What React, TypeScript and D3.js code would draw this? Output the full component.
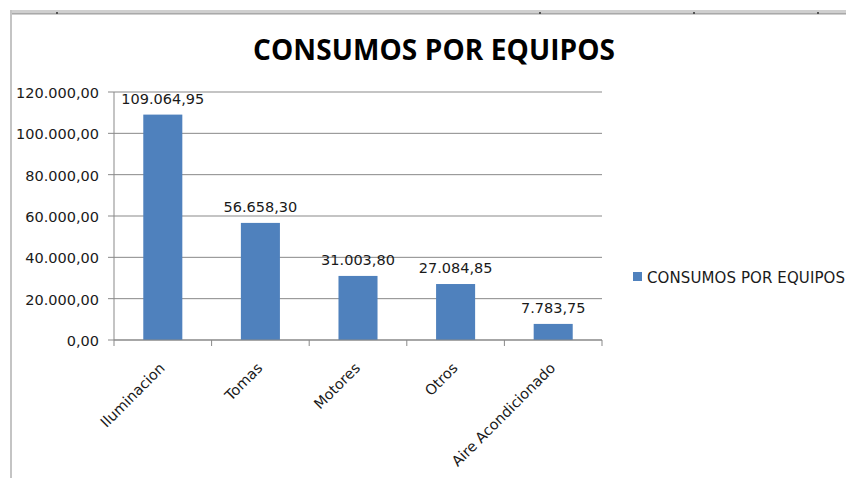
import React from "react";
import * as d3 from "d3";

const categories = ["Iluminacion", "Tomas", "Motores", "Otros", "Aire Acondicionado"];
const values = [109064.95, 56658.3, 31003.8, 27084.85, 7783.75];
const yTicks = [0, 20000, 40000, 60000, 80000, 100000, 120000];
const seriesName = "CONSUMOS POR EQUIPOS";
const title = "CONSUMOS POR EQUIPOS";
const topMarks = [56, 539, 693, 817];

const W = 846;
const H = 478;
const plot = { left: 114, right: 602, top: 92, bottom: 340 };
const BAR = "#4F81BD";
const GRID = "#898989";
const TXT = "#1a1a1a";
const FONT = "'DejaVu Sans', Verdana, sans-serif";

const locale = d3.formatLocale({ decimal: ",", thousands: ".", grouping: [3], currency: ["", ""] });
const fmt = locale.format(",.2f");

export default function App() {
  const x = d3
    .scaleBand<string>()
    .domain(categories)
    .range([plot.left, plot.right])
    .paddingInner(0.6)
    .paddingOuter(0.3);
  const y = d3.scaleLinear().domain([0, 120000]).range([plot.bottom, plot.top]);
  const step = x.step();
  const bounds = categories.map((c) => (x(c) as number) - 0.3 * step).concat([plot.right]);

  return (
    <svg
      width={W}
      height={H}
      style={{ position: "fixed", left: 0, top: 0, background: "#fff" }}
      fontFamily={FONT}
    >
      <rect x={0} y={0} width={W} height={H} fill="#fff" />
      {/* sheet borders */}
      <rect x={10} y={10} width={W - 10} height={5} fill="#cfcfcf" />
      <line x1={10} x2={W} y1={13.5} y2={13.5} stroke="#a9a9a9" strokeWidth={1} />
      <rect x={10} y={10} width={2} height={H - 10} fill="#c4c4c4" />
      {topMarks.map((m) => (
        <rect key={m} x={m} y={12} width={2} height={2} fill="#555" />
      ))}

      {/* title */}
      <text
        x={434}
        y={60}
        textAnchor="middle"
        fontFamily="'Open Sans', sans-serif"
        fontWeight="bold"
        fontSize={28}
        fill="#000"
        textLength={362}
      >
        {title}
      </text>

      {/* gridlines */}
      {yTicks.map((t) => (
        <line key={t} x1={plot.left - 6} x2={plot.right} y1={y(t)} y2={y(t)} stroke={GRID} strokeWidth={1} />
      ))}
      {/* y axis */}
      <line x1={plot.left} x2={plot.left} y1={plot.top} y2={plot.bottom} stroke={GRID} strokeWidth={1} />
      {yTicks.map((t) => (
        <text key={"l" + t} x={99} y={y(t) + 6} textAnchor="end" fontSize={14.5} fill={TXT}>
          {fmt(t)}
        </text>
      ))}

      {/* bars */}
      {categories.map((c, i) => (
        <rect
          key={c}
          x={x(c)}
          y={y(values[i])}
          width={x.bandwidth()}
          height={plot.bottom - y(values[i])}
          fill={BAR}
        />
      ))}
      {categories.map((c, i) => (
        <text
          key={"v" + c}
          x={(x(c) as number) + x.bandwidth() / 2}
          y={y(values[i]) - 11}
          textAnchor="middle"
          fontSize={14.5}
          fill={TXT}
        >
          {fmt(values[i])}
        </text>
      ))}

      {/* x axis */}
      <line x1={plot.left} x2={plot.right} y1={plot.bottom} y2={plot.bottom} stroke={GRID} strokeWidth={1} />
      {bounds.map((b, i) => (
        <line key={"t" + i} x1={b} x2={b} y1={plot.bottom} y2={plot.bottom + 6} stroke={GRID} strokeWidth={1} />
      ))}
      {categories.map((c) => {
        const cx = (x(c) as number) + x.bandwidth() / 2;
        return (
          <text
            key={"c" + c}
            transform={`translate(${cx + 3},${369}) rotate(-45)`}
            textAnchor="end"
            fontSize={14.5}
            fill={TXT}
          >
            {c}
          </text>
        );
      })}

      {/* legend */}
      <rect x={633} y={272} width={9} height={9} fill={BAR} />
      <text x={647} y={283} fontSize={15} fill={TXT} textLength={198}>
        {seriesName}
      </text>
    </svg>
  );
}
